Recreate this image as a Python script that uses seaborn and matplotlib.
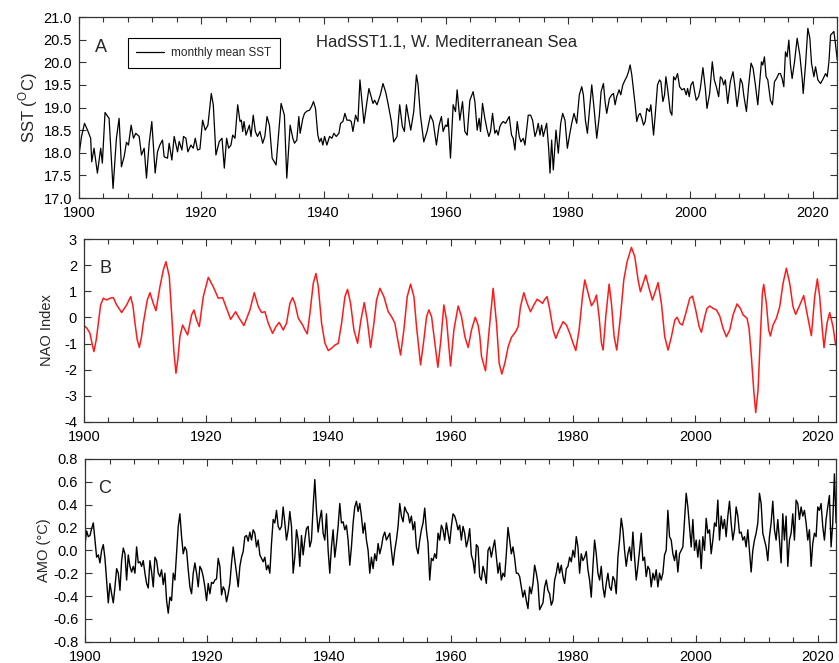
import numpy as np
import matplotlib
matplotlib.use("Agg")
import matplotlib.pyplot as plt
from matplotlib.ticker import MultipleLocator, FormatStrFormatter
import seaborn as sns

# ---------------- Panel A: HadSST1.1 W. Mediterranean SST ----------------
sst_years = [
    1900.0, 1900.4, 1900.9, 1901.4, 1901.91, 1902.08, 1902.46, 1903.01, 1903.55, 1903.82,
    1904.26, 1904.92, 1905.57, 1906.12, 1906.56, 1906.94, 1907.38, 1907.76, 1908.09, 1908.53,
    1908.91, 1909.29, 1909.84, 1910.22, 1910.66, 1911.04, 1911.48, 1911.91, 1912.46, 1912.84,
    1913.22, 1913.66, 1913.93, 1914.48, 1914.75, 1915.19, 1915.57, 1916.12, 1916.39, 1916.83,
    1917.1, 1917.49, 1917.81, 1918.31, 1918.69, 1919.02, 1919.4, 1919.78, 1920.22, 1920.65,
    1921.09, 1921.64, 1921.97, 1922.4, 1922.95, 1923.39, 1923.77, 1924.15, 1924.48, 1924.86,
    1925.14, 1925.52, 1925.96, 1926.34, 1926.56, 1926.78, 1927.0, 1927.32, 1927.87, 1928.14,
    1928.5, 1928.85, 1929.2, 1929.6, 1930.05, 1930.4, 1930.76, 1931.15, 1931.6, 1932.24,
    1933.06, 1933.6, 1933.99,
    1934.54, 1934.98, 1935.25, 1935.63, 1935.96, 1936.18, 1936.62, 1936.89, 1937.27, 1937.71,
    1938.04, 1938.36, 1938.69, 1939.07, 1939.35, 1939.62, 1939.89, 1940.17, 1940.55, 1940.99,
    1941.37, 1941.7, 1942.08, 1942.52, 1942.79, 1943.17, 1943.5, 1943.83, 1944.27, 1944.54,
    1944.81, 1945.25, 1945.63, 1945.96, 1946.34, 1946.62, 1947.11, 1947.43, 1947.65, 1948.09,
    1948.36, 1948.75, 1949.29, 1949.73, 1950.17, 1950.55, 1951.1, 1951.48, 1952.03, 1952.46,
    1952.9, 1953.23, 1953.56, 1953.88, 1954.27, 1954.76, 1955.2, 1955.47, 1955.85, 1956.4,
    1956.94, 1957.49, 1957.93, 1958.47, 1958.91, 1959.29, 1959.57, 1959.95, 1960.22, 1960.39,
    1960.77, 1961.21, 1961.59, 1961.86, 1962.3, 1962.74, 1963.12, 1963.5, 1963.94, 1964.48,
    1964.76, 1965.14,
    1965.46, 1965.68, 1966.01, 1966.39, 1966.77, 1967.04, 1967.32, 1967.65, 1968.03, 1968.3,
    1968.57, 1968.85, 1969.12, 1969.4, 1969.78, 1970.05, 1970.38, 1970.76, 1971.03, 1971.31,
    1971.69, 1972.02, 1972.29, 1972.67, 1972.95, 1973.49, 1973.88, 1974.2, 1974.59, 1974.86,
    1975.13, 1975.41, 1975.68, 1975.95, 1976.5, 1976.83, 1977.05, 1977.32, 1977.59, 1978.03,
    1978.41, 1978.8, 1979.12, 1979.5, 1979.89, 1980.21, 1980.6, 1980.98, 1981.42, 1981.85,
    1982.24, 1982.51, 1982.84, 1983.17, 1983.49, 1983.88, 1984.26, 1984.7, 1985.13, 1985.41,
    1985.79, 1986.06, 1986.33, 1986.77, 1987.15, 1987.43, 1987.7, 1987.97, 1988.36, 1988.63,
    1988.96, 1989.34, 1989.61, 1989.89, 1990.16, 1990.43, 1990.71, 1990.98, 1991.25, 1991.53,
    1991.8, 1992.07, 1992.35, 1992.62, 1992.89, 1993.33, 1993.55, 1993.99, 1994.26, 1994.64,
    1994.97, 1995.19, 1995.52, 1995.79, 1996.01, 1996.28, 1996.72,
    1996.99, 1997.27, 1997.54, 1997.92, 1998.25, 1998.63, 1999.01, 1999.34, 1999.56, 1999.83,
    2000.11, 2000.43, 2000.71, 2000.98, 2001.36, 2001.64, 2002.07, 2002.46, 2002.73, 2003.17,
    2003.6, 2003.93, 2004.26, 2004.64, 2004.92, 2005.19, 2005.46, 2005.74, 2006.12, 2006.55,
    2006.99, 2007.27, 2007.65, 2007.92, 2008.2, 2008.52, 2008.74, 2009.18, 2009.56, 2009.94,
    2010.27, 2010.65, 2011.04, 2011.36, 2011.64, 2011.86, 2012.13, 2012.4, 2012.68, 2013.11,
    2013.44, 2013.77, 2014.1, 2014.48, 2014.75, 2015.02, 2015.3, 2015.57, 2015.84, 2016.12,
    2016.39, 2016.66, 2017.05, 2017.48, 2017.92, 2018.3, 2018.47, 2018.85, 2019.23, 2019.56,
    2019.83, 2020.22, 2020.49, 2020.87, 2021.31, 2021.75, 2022.13, 2022.4, 2022.68, 2022.95,
    2023.22, 2023.49, 2023.77, 2024.04,
]
sst_values = [
    17.95, 18.35, 18.65, 18.50, 18.32, 17.80, 18.10, 17.55, 18.10, 17.77,
    18.89, 18.76, 17.21, 18.32, 18.76, 17.69, 17.91, 18.23, 18.17, 18.61,
    18.32, 18.43, 18.36, 17.95, 18.10, 17.44, 18.21, 18.69, 17.55, 18.02,
    18.17, 18.28, 17.91, 17.88, 18.21, 17.84, 18.36, 18.02, 18.25, 18.06,
    18.36, 18.32, 18.02, 18.17, 18.10, 18.32, 18.06, 18.08, 18.72, 18.50,
    18.61, 19.31, 19.06, 17.95, 18.25, 18.32, 17.66, 18.32, 18.10, 18.17,
    18.39, 18.32, 19.06, 18.69, 18.72, 18.47, 18.69, 18.39, 18.61, 18.36,
    18.83, 18.47, 18.36, 18.47, 18.21, 18.36, 18.80, 18.61, 17.88, 17.73,
    19.09, 18.83, 17.44,
    18.61, 18.32, 18.21, 18.28, 18.80, 18.43, 18.76, 18.87, 18.92, 18.94,
    19.02, 19.13, 18.98, 18.39, 18.24, 18.32, 18.17, 18.36, 18.17, 18.36,
    18.32, 18.43, 18.36, 18.43, 18.65, 18.69, 18.87, 18.72, 18.72, 18.69,
    18.47, 18.83, 18.69, 19.61, 19.06, 18.65, 19.13, 19.42, 19.31, 19.09,
    19.16, 19.06, 19.28, 19.53, 19.34, 19.09, 18.69, 18.24, 18.36, 19.06,
    18.58, 18.47, 19.06, 18.80, 18.50, 18.91, 19.72, 19.50, 18.83, 18.24,
    18.47, 18.83, 18.69, 18.17, 18.61, 18.80, 18.47, 18.61, 18.58, 18.76,
    17.88, 19.06, 18.91, 19.39, 18.72, 19.13, 18.47, 18.39, 19.16, 19.35,
    19.13, 18.50,
    18.76, 18.47, 19.09, 18.76, 18.50, 18.36, 18.47, 18.87, 18.43, 18.50,
    18.39, 18.58, 18.65, 18.69, 18.65, 18.72, 18.80, 18.39, 18.32, 18.06,
    18.69, 18.36, 18.24, 18.32, 18.17, 18.83, 18.83, 18.72, 18.36, 18.47,
    18.65, 18.39, 18.61, 18.36, 18.65, 18.10, 17.55, 18.28, 17.62, 18.50,
    17.99, 18.65, 18.87, 18.72, 18.10, 18.36, 18.65, 18.87, 18.65, 19.28,
    19.46, 19.28, 18.72, 18.43, 18.91, 19.50, 18.98, 18.32, 18.83, 19.35,
    19.53, 19.13, 18.87, 19.20, 19.28, 19.31, 19.06, 19.24, 19.39, 19.28,
    19.50, 19.61, 19.68, 19.79, 19.94, 19.72, 19.39, 19.06, 18.69, 18.83,
    18.87, 18.76, 18.61, 18.69, 18.98, 18.91, 19.06, 18.39, 18.83, 19.50,
    19.61, 19.57, 19.13, 19.28, 19.68, 19.42, 18.91,
    18.83, 19.68, 19.61, 19.75, 19.46, 19.39, 19.42, 19.28, 19.42, 19.24,
    19.50, 19.57, 19.35, 19.16, 19.24, 19.42, 19.88, 19.42, 18.98, 19.31,
    20.01, 19.61, 19.46, 19.24, 19.68, 19.64, 19.50, 19.61, 19.09, 19.57,
    19.79, 19.50, 19.02, 19.28, 19.64, 19.53, 19.28, 18.91, 19.50, 19.98,
    19.87, 19.50, 19.06, 19.57, 20.01, 19.94, 20.12, 19.68, 19.61, 19.16,
    19.06, 19.57, 19.64, 19.75, 19.75, 19.64, 19.46, 20.23, 20.12, 20.49,
    19.94, 19.64, 20.01, 20.53, 20.16, 19.64, 19.31, 19.94, 20.75, 20.53,
    19.98, 19.68, 19.90, 19.61, 19.53, 19.64, 19.75, 19.68, 20.01, 20.60,
    20.64, 20.68, 20.38, 20.05,
]

# ---------------- Panel B: NAO index (smoothed) ----------------
nao_years = [
    1900.0, 1900.5, 1900.98, 1901.31, 1901.63, 1902.0, 1902.34, 1902.72, 1903.16, 1903.7,
    1904.25, 1904.8, 1905.34, 1906.16, 1906.97, 1907.63, 1908.0, 1908.34, 1908.7, 1909.05,
    1909.4, 1909.7, 1910.35, 1910.79, 1911.33, 1911.77, 1912.42, 1913.0, 1913.41, 1913.95,
    1914.33, 1914.7, 1915.04, 1915.35, 1915.69, 1916.13, 1916.95, 1917.6, 1917.98, 1918.42,
    1918.86, 1919.51, 1920.33, 1921.14, 1921.96, 1922.67, 1923.32, 1923.98, 1924.8, 1925.39,
    1926.16, 1927.14, 1927.85, 1928.5, 1929.05, 1929.59, 1930.14, 1930.84, 1931.39, 1931.93,
    1932.59, 1933.13, 1933.68, 1934.12, 1934.5, 1935.05, 1935.76, 1936.14, 1936.52, 1936.95,
    1937.5, 1937.94, 1938.32, 1938.86, 1939.41, 1939.95, 1940.5, 1941.04, 1941.59, 1942.13,
    1942.68, 1943.11, 1943.6, 1944.15, 1944.75, 1945.29, 1945.84, 1946.33, 1946.87, 1947.42,
    1947.85, 1948.4, 1949.05, 1949.76, 1950.31, 1950.85, 1951.23, 1951.78, 1952.32, 1952.87,
    1953.41, 1953.96, 1954.39, 1955.05, 1955.59, 1956.03, 1956.41, 1956.85, 1957.39, 1957.88,
    1958.37, 1958.86, 1959.3, 1959.95, 1960.5, 1961.2, 1961.75, 1962.3, 1962.84, 1963.38,
    1964.0, 1964.47, 1964.75, 1965.02, 1965.67, 1966.27, 1966.92, 1967.47, 1967.91, 1968.34,
    1968.83, 1969.38, 1969.92, 1970.63, 1971.01, 1971.39, 1971.94, 1972.48, 1973.03, 1973.57,
    1974.12, 1974.66, 1974.99, 1975.37, 1975.75, 1976.19, 1976.73, 1977.17, 1977.71, 1978.37,
    1978.91, 1979.46, 1980.0, 1980.44, 1980.98, 1981.53, 1981.91, 1982.46, 1983.0, 1983.44,
    1983.82, 1984.25, 1984.64, 1984.91, 1985.34, 1985.89, 1986.27, 1986.71, 1987.14, 1987.74,
    1988.29, 1988.83, 1989.54, 1990.09, 1990.63, 1991.01, 1991.45, 1991.88, 1992.43, 1992.97,
    1993.52, 1993.9, 1994.44, 1994.99, 1995.53, 1996.08, 1996.63, 1997.01, 1997.44, 1997.88,
    1998.43, 1999.08, 1999.52, 2000.06, 2000.61, 2000.99, 2001.53, 2001.91, 2002.35, 2002.89,
    2003.44, 2003.98, 2004.53, 2005.07, 2005.62, 2006.16, 2006.82, 2007.36, 2007.8, 2008.45,
    2008.78, 2009.16, 2009.54, 2009.87, 2010.25, 2010.63, 2010.96, 2011.18, 2011.61, 2011.99,
    2012.27, 2012.7, 2013.25, 2013.79, 2014.34, 2014.88, 2015.43, 2015.97, 2016.41, 2016.95,
    2017.72, 2018.26, 2018.97, 2019.52, 2019.95, 2020.33, 2020.77, 2021.04, 2021.53, 2021.97,
    2022.51, 2022.95,
]
nao_values = [
    -0.30, -0.42, -0.61, -0.99, -1.31, -0.86, -0.22, 0.48, 0.74, 0.67,
    0.74, 0.76, 0.48, 0.19, 0.48, 0.80, 0.45, -0.22, -0.85, -1.15,
    -0.75, -0.22, 0.67, 0.95, 0.54, 0.26, 1.18, 1.85, 2.14, 1.57,
    0.16, -1.30, -2.14, -1.60, -0.74, -0.29, -0.67, 0.10, 0.29, -0.10,
    -0.35, 0.80, 1.54, 1.18, 0.74, 0.76, 0.35, -0.07, 0.22, -0.03,
    -0.31, 0.29, 0.95, 0.42, 0.19, 0.22, -0.22, -0.61, -0.35, -0.19,
    -0.48, -0.22, 0.54, 0.76, 0.54, -0.03, -0.29, -0.48, -0.63, 0.16,
    1.31, 1.69, 1.18, -0.22, -0.99, -1.27, -1.18, -1.06, -0.99, -0.22,
    0.80, 1.08, 0.54, -0.48, -0.99, -0.10, 0.57, -0.10, -1.15, -0.22,
    0.67, 1.12, 0.80, 0.22, 0.03, -0.22, -0.74, -1.44, -0.48, 0.80,
    1.28, 0.80, -0.35, -1.82, -0.86, 0.03, 0.29, 0.03, -0.99, -1.91,
    -0.86, 0.48, -0.10, -1.86, -0.48, 0.44, 0.03, -0.74, -1.15, -0.48,
    0.01, -0.30, -0.74, -1.50, -2.05, -0.48, 1.12, -0.22, -1.76, -2.17,
    -1.76, -1.12, -0.76, -0.54, -0.35, 0.41, 0.95, 0.54, 0.22, 0.48,
    0.70, 0.61, 0.54, 0.70, 0.80, 0.29, -0.48, -0.80, -0.48, -0.16,
    -0.29, -0.61, -0.99, -1.27, -0.48, 0.80, 1.44, 0.93, 0.45, 0.61,
    0.86, 0.03, -0.99, -1.25, 0.03, 1.28, 0.54, -0.74, -1.25, 0.03,
    1.44, 2.14, 2.69, 2.33, 1.44, 0.99, 1.31, 1.63, 1.12, 0.67,
    1.05, 1.34, 0.54, -0.74, -1.25, -0.74, -0.10, 0.01, -0.22, -0.29,
    0.16, 0.74, 0.82, 0.29, -0.35, -0.57, 0.03, 0.35, 0.44, 0.35,
    0.29, 0.06, -0.42, -0.74, -0.48, 0.10, 0.52, 0.35, 0.10, -0.03,
    -0.42, -1.50, -2.78, -3.65, -2.78, -0.74, 0.93, 1.27, 0.54, -0.48,
    -0.71, -0.29, -0.03, 0.41, 1.31, 1.89, 1.31, 0.41, 0.12, 0.41,
    0.84, 0.16, -0.70, 0.80, 1.48, 0.80, -0.48, -1.16, -0.22, 0.19,
    -0.35, -1.06,
]

# ---------------- Panel C: AMO (regularly sampled series) ----------------
amo_first_year = 1899.98
amo_year_step = 0.2728
amo_values = [
    0.05, 0.17, 0.12,
    0.13, 0.19, 0.24, 0.09, -0.06, -0.04, -0.11, 0.00, 0.05, -0.07,
    -0.26, -0.46, -0.29, -0.38, -0.46, -0.32, -0.16, -0.20, -0.35, -0.09,
    0.02, -0.03, -0.26, -0.04, -0.14, -0.19, -0.14, -0.20, 0.03, -0.11,
    -0.10, -0.14, -0.09, -0.20, -0.29, -0.33, -0.09, -0.19, -0.32, -0.06,
    -0.09, -0.20, -0.23, -0.17, -0.30, -0.20, -0.44, -0.55, -0.41, -0.44,
    -0.20, -0.26, -0.03, 0.21, 0.32, 0.12, -0.03, 0.03, 0.00, -0.17,
    -0.32, -0.38, -0.20, -0.11, -0.20, -0.32, -0.14, -0.17, -0.23, -0.32,
    -0.44, -0.29, -0.38, -0.28, -0.29, -0.26, -0.25, -0.07, -0.14, -0.39,
    -0.32, -0.35, -0.45, -0.38, -0.29, -0.11, 0.03, -0.09, -0.20, -0.32,
    -0.14, -0.06, -0.01, 0.12, 0.13, 0.08, 0.16, 0.09, 0.18, 0.15,
    0.03, 0.09, -0.04, -0.07, -0.10, -0.06, -0.17, -0.13, -0.20, 0.06,
    0.27, 0.24, 0.35, 0.21,
    0.18, 0.21, 0.38, 0.24, 0.09, 0.18, 0.34, 0.21, -0.20, -0.06,
    0.18, 0.09, -0.14, 0.13, -0.04, 0.09, 0.19, 0.21, 0.03, 0.09,
    0.38, 0.62, 0.35, 0.16, 0.27, 0.35, 0.15, 0.09, 0.32, 0.00,
    -0.20, 0.03, 0.18, -0.06, 0.06, 0.21, 0.41, 0.24, 0.25, 0.18,
    0.22, 0.09, -0.13, 0.03, 0.24, 0.38, 0.43, 0.34, 0.41, 0.30,
    0.15, 0.24, 0.09, 0.00, -0.20, -0.06, -0.16, -0.03, -0.09, 0.06,
    -0.03, 0.03, 0.12, 0.16, 0.09, 0.12, 0.15, 0.00, -0.13, 0.00,
    0.09, 0.21, 0.41, 0.30, 0.25, 0.38, 0.34, 0.32, 0.24, 0.30,
    0.18, 0.25, 0.03, -0.03, 0.09, 0.18, 0.24, 0.37, 0.18, 0.06,
    -0.26, -0.07, -0.09, -0.03, -0.07, 0.15, 0.09, 0.22, 0.18, 0.09,
    0.24, 0.15, 0.06, 0.21, 0.32, 0.30, 0.25, 0.18, 0.22, 0.09,
    0.21, 0.15, 0.03, 0.09,
    0.19, -0.04, -0.09, -0.20, 0.05, 0.03, -0.23, -0.26, -0.14, -0.20,
    -0.29, 0.00, 0.03, -0.06, 0.02, 0.09, -0.06, -0.20, -0.11, -0.26,
    -0.20, -0.23, -0.03, 0.20, 0.09, -0.03, 0.03, -0.07, -0.20, -0.20,
    -0.23, -0.32, -0.41, -0.35, -0.44, -0.51, -0.32, -0.38, -0.29, -0.13,
    -0.20, -0.29, -0.52, -0.49, -0.46, -0.32, -0.26, -0.35, -0.38, -0.48,
    -0.44, -0.26, -0.20, -0.11, -0.20, -0.13, -0.23, -0.29, -0.16, -0.14,
    -0.06, -0.10, 0.00, -0.06, 0.12, 0.03, -0.20, -0.03, -0.09, -0.06,
    -0.01, -0.17, -0.26, -0.41, -0.14, 0.09, -0.03, -0.20, -0.26, -0.14,
    -0.32, -0.41, -0.29, -0.20, -0.32, -0.35, -0.23, -0.26, -0.38, -0.06,
    0.09, 0.28, 0.18, 0.00, -0.14, -0.03, 0.03, -0.09, 0.16, -0.06,
    -0.26, -0.14, 0.00, 0.15, -0.09, -0.06, -0.23, -0.14,
    -0.17, -0.32, -0.20, -0.26, -0.17, -0.32, -0.20, -0.26, -0.20, -0.04,
    0.00, 0.35, 0.12, 0.09, -0.03, -0.09, 0.00, -0.19, -0.03, 0.00,
    0.03, 0.27, 0.50, 0.38, 0.21, 0.03, 0.27, 0.00, 0.09, -0.06,
    0.09, -0.16, 0.12, 0.00, 0.28, 0.15, 0.18, -0.03, 0.09, 0.24,
    0.21, 0.44, 0.09, 0.30, 0.19, 0.27, 0.12, 0.30, 0.43, 0.24,
    0.09, 0.18, 0.38, 0.30, 0.15, 0.16, 0.09, 0.12, 0.03, 0.18,
    0.00, -0.19, 0.00, 0.09, 0.15, 0.24, 0.50, 0.41, 0.15, 0.09,
    0.03, -0.09, 0.12, 0.24, 0.43, 0.18, 0.09, 0.27, 0.09, -0.11,
    0.32, 0.09, 0.30, -0.14, 0.09, 0.15, 0.32, 0.09, 0.44, 0.41,
    0.27, 0.38, 0.30, 0.35, 0.24, 0.09, 0.18, -0.14, 0.06, 0.15,
    0.12, 0.38, 0.35, 0.41, 0.21, 0.09, 0.27, 0.38, 0.48, 0.03,
    0.24, 0.67, 0.24,
]
amo_years = amo_first_year + amo_year_step * np.arange(len(amo_values))

# ---------------- Figure ----------------
sns.set_style("ticks")
plt.rcParams['font.family'] = ['Liberation Sans', 'DejaVu Sans']
plt.rcParams['axes.unicode_minus'] = False
plt.rcParams['mathtext.fontset'] = 'custom'
plt.rcParams['mathtext.rm'] = 'Liberation Sans'

W, H = 839, 663
fig = plt.figure(figsize=(W / 100, H / 100), dpi=100)


def rect(l, t, r, b):
    return [l / W, 1 - b / H, (r - l) / W, (b - t) / H]


axA = fig.add_axes(rect(79, 17, 837, 198))
axB = fig.add_axes(rect(84, 239.3, 836, 421.7))
axC = fig.add_axes(rect(85.1, 459, 836, 641.7))

sns.lineplot(x=sst_years, y=sst_values, ax=axA, color='black', linewidth=0.9,
             sort=False, estimator=None, label='monthly mean SST')
sns.lineplot(x=nao_years, y=nao_values, ax=axB, color='#ff1a1a', linewidth=1.1,
             sort=False, estimator=None, legend=False)
sns.lineplot(x=amo_years, y=amo_values, ax=axC, color='black', linewidth=1.0,
             sort=False, estimator=None, legend=False)

spine_col = '#333333'
for ax, xmax in ((axA, 2024), (axB, 2023), (axC, 2023)):
    ax.set_xlim(1900, xmax)
    ax.xaxis.set_major_locator(MultipleLocator(20))
    ax.xaxis.set_minor_locator(MultipleLocator(4))
    ax.tick_params(which='both', direction='in', top=True, right=True,
                   color=spine_col, width=0.8, labelsize=10.5, labelcolor='black')
    ax.tick_params(which='major', length=5)
    ax.tick_params(which='minor', length=3.5)
    ax.tick_params(axis='x', pad=6)
    ax.tick_params(axis='y', pad=5)
    for s in ax.spines.values():
        s.set_linewidth(0.9)
        s.set_color(spine_col)
    ax.set_xlabel('')

# Panel A axes
axA.set_ylim(17.0, 21.0)
axA.yaxis.set_major_locator(MultipleLocator(0.5))
axA.yaxis.set_major_formatter(FormatStrFormatter('%.1f'))
axA.set_ylabel('SST ($^{\\rm O}$C)', fontsize=12)
axA.yaxis.set_label_coords(-0.052, 0.5)
axA.text(0.021, 0.808, 'A', transform=axA.transAxes, fontsize=13,
         ha='left', va='baseline')
axA.text(0.3127, 0.836, 'HadSST1.1, W. Mediterranean Sea', transform=axA.transAxes,
         fontsize=12, ha='left', va='baseline')
leg = axA.legend(loc='upper left', bbox_to_anchor=(0.064, 0.882), borderaxespad=0,
                 frameon=True, fancybox=False, edgecolor='black', framealpha=1,
                 fontsize=8.5, handlelength=2.3, handletextpad=0.6, borderpad=0.75)
leg.get_frame().set_linewidth(0.8)

# Panel B axes
axB.set_ylim(-4, 3)
axB.yaxis.set_major_locator(MultipleLocator(1))
axB.yaxis.set_major_formatter(FormatStrFormatter('%d'))
axB.set_ylabel('NAO Index', fontsize=10.5)
axB.yaxis.set_label_coords(-0.040, 0.5)
axB.text(0.0203, 0.817, 'B', transform=axB.transAxes, fontsize=13,
         ha='left', va='baseline')

# Panel C axes
axC.set_ylim(-0.8, 0.8)
axC.yaxis.set_major_locator(MultipleLocator(0.2))
axC.yaxis.set_major_formatter(FormatStrFormatter('%.1f'))
axC.set_ylabel('AMO (\u00b0C)', fontsize=10.5)
axC.yaxis.set_label_coords(-0.045, 0.5)
axC.text(0.0176, 0.8155, 'C', transform=axC.transAxes, fontsize=13,
         ha='left', va='baseline')

fig.savefig('out.png', dpi=100)
